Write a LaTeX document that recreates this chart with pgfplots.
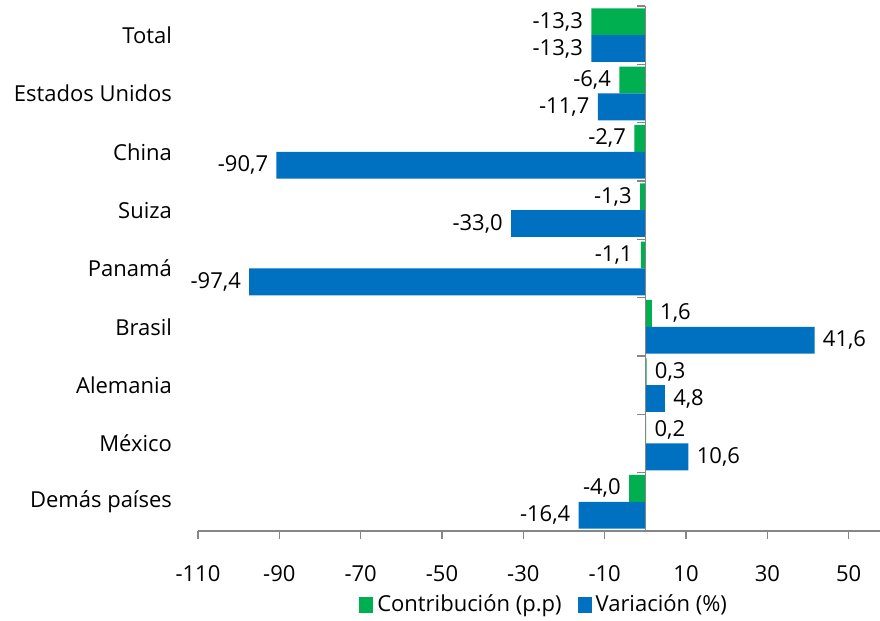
\documentclass[border=0pt]{standalone}
\usepackage{fontspec}
\setmainfont{Open Sans}
\usepackage{pgfplots}
\pgfplotsset{compat=1.18}
\definecolor{verde}{HTML}{00B050}
\definecolor{azul}{HTML}{0070C0}
\definecolor{eje}{HTML}{868686}

\begin{document}
\begin{tikzpicture}
\begin{axis}[
    scale only axis,
    width=341pt, height=262.5pt,
    font=\fontsize{11}{13.2}\selectfont,
    xbar, bar width=0.46,
    y dir=reverse,
    xmin=-110, xmax=57.7,
    ymin=-0.5, ymax=8.5,
    xtick={-110,-90,...,50},
    ytick={0,...,8},
    yticklabels={Total,Estados Unidos,China,Suiza,Panamá,Brasil,Alemania,México,Demás países},
    axis x line*=bottom, axis y line*=left,
    y axis line style={draw=none},
    ytick style={draw=none},
    x axis line style={eje, line width=0.8pt},
    xtick style={eje, line width=0.8pt},
    tick align=outside,
    major tick length=4pt,
    xticklabel style={yshift=-10pt},
    yticklabel style={xshift=-5.5pt},
    /pgf/number format/assume math mode=true,
    /pgf/number format/.cd, fixed, fixed zerofill, precision=1, use comma, 1000 sep={},
    /pgfplots/.cd,
    xticklabel={\pgfmathprintnumber[fixed, precision=0]{\tick}},
    nodes near coords,
    nodes near coords style={text=black, font=\fontsize{11}{13.2}\selectfont, inner sep=4pt},
    legend style={draw=none, at={(axis description cs:0.509,-0.141)}, anchor=center,
        legend columns=2, /tikz/every even column/.append style={column sep=6pt}},
    legend image code/.code={\fill[#1] (0pt,-4pt) rectangle (7pt,4pt);},
]
\addplot[fill=verde, draw=none, bar shift=-0.23] coordinates {
    (-13.3,0) (-6.4,1) (-2.7,2) (-1.3,3) (-1.1,4) (1.6,5) (0.3,6) (0.2,7) (-4.0,8)
};
\addlegendentry{Contribución (p.p)}
\addplot[fill=azul, draw=none, bar shift=0.23] coordinates {
    (-13.3,0) (-11.7,1) (-90.7,2) (-33.0,3) (-97.4,4) (41.6,5) (4.8,6) (10.6,7) (-16.4,8)
};
\addlegendentry{Variación (\%)}
\draw[eje, line width=0.8pt] (axis cs:0,-0.5) -- (axis cs:0,8.5);
\pgfplotsinvokeforeach{-0.5,0.5,...,8.5}{
    \draw[eje, line width=0.8pt] (axis cs:0,#1) -- ([xshift=-4pt]axis cs:0,#1);
}
\coordinate (bl) at (axis description cs:-0.2903,-0.1714);
\coordinate (tr) at (axis description cs:1,1.0114);
\end{axis}
\pgfresetboundingbox
\path (bl) rectangle (tr);
\end{tikzpicture}
\end{document}
